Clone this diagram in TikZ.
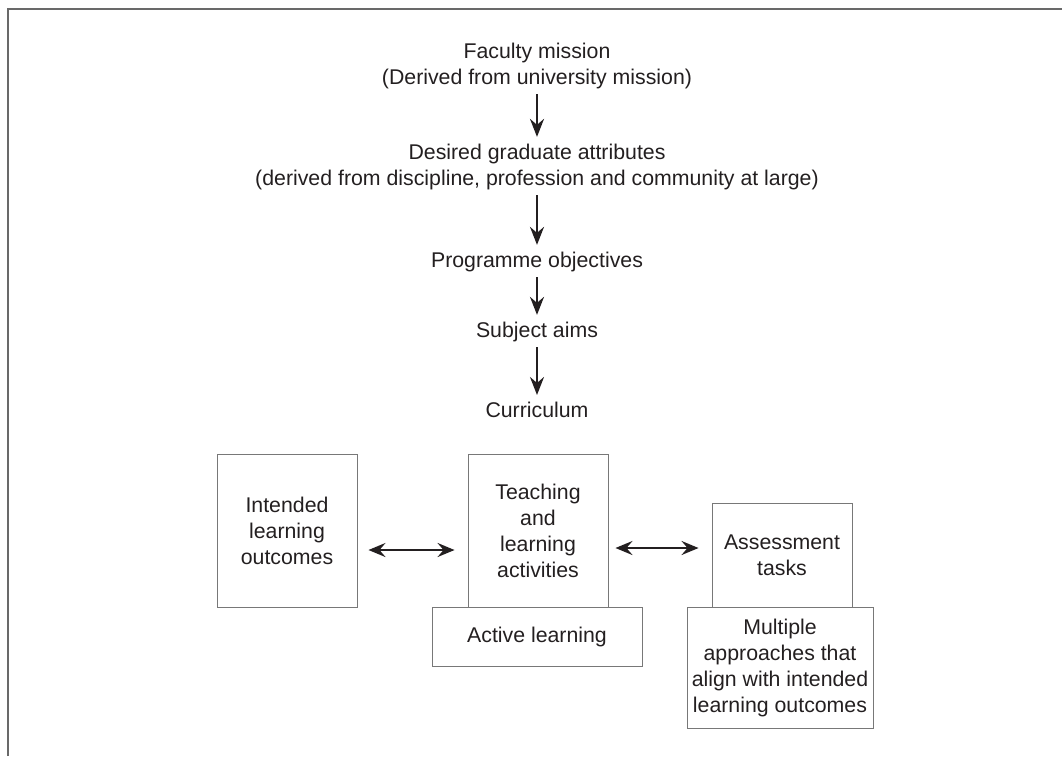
\documentclass[tikz,border=0pt]{standalone}
\usepackage{fontspec}
\setmainfont{Liberation Sans}
\usetikzlibrary{arrows.meta}
\definecolor{framegrey}{RGB}{105,105,105}
\definecolor{boxgrey}{RGB}{120,120,120}
\definecolor{ink}{RGB}{35,31,32}

\begin{document}
\begin{tikzpicture}[x=1pt,y=-1pt,
  every node/.style={inner sep=0pt, align=center, text=ink, font=\fontsize{21.3}{26}\selectfont},
  box/.style={draw=boxgrey, line width=0.9pt, minimum width=#1},
  flow/.style={-{Stealth[length=18pt,width=14pt,inset=6pt]}, line width=2.4pt, draw=ink, shorten <=5pt, shorten >=7pt},
  both/.style={{Stealth[length=17pt,width=14pt,inset=6pt]}-{Stealth[length=17pt,width=14pt,inset=6pt]}, line width=2.4pt, draw=ink}]
\useasboundingbox (0,0) rectangle (1062,756);
\draw [framegrey, line width=1.4pt] (8,756) -- (8,9) -- (1062,9);
\node (mission) at (537,66) {Faculty mission\\(Derived from university mission)};
\node (attrib) at (537,167) {Desired graduate attributes\\(derived from discipline, profession and community at large)};
\node (progobj) at (537,262) {Programme objectives};
\node (aims) at (537,332) {Subject aims};
\node (curric) at (537,410) {Curriculum};
\draw [flow] (mission) -- (attrib);
\draw [flow] (attrib) -- (progobj);
\draw [flow] (progobj) -- (aims);
\draw [flow] (aims) -- (curric);
\node [box=140pt, minimum height=153pt] (ilo) at (287,530.5) {Intended\\learning\\outcomes};
\node [box=140pt, minimum height=153pt] (tla) at (538,530.5) {Teaching\\and\\learning\\activities};
\node [box=210pt, minimum height=59pt] (active) at (537,636.5) {Active learning};
\node [box=140pt, minimum height=104pt] (assess) at (782,555) {Assessment\\tasks};
\node [box=186pt, minimum height=121pt] (multi) at (780,667.5) {Multiple\\approaches that\\align with intended\\learning outcomes};
\draw [both, shorten <=11pt, shorten >=13pt] ([yshift=-19.5pt]ilo.east) -- ([yshift=-19.5pt]tla.west);
\draw [both, shorten <=7pt, shorten >=13pt] ([yshift=-17.5pt]tla.east) -- ([yshift=7pt]assess.west);
\end{tikzpicture}
\end{document}
